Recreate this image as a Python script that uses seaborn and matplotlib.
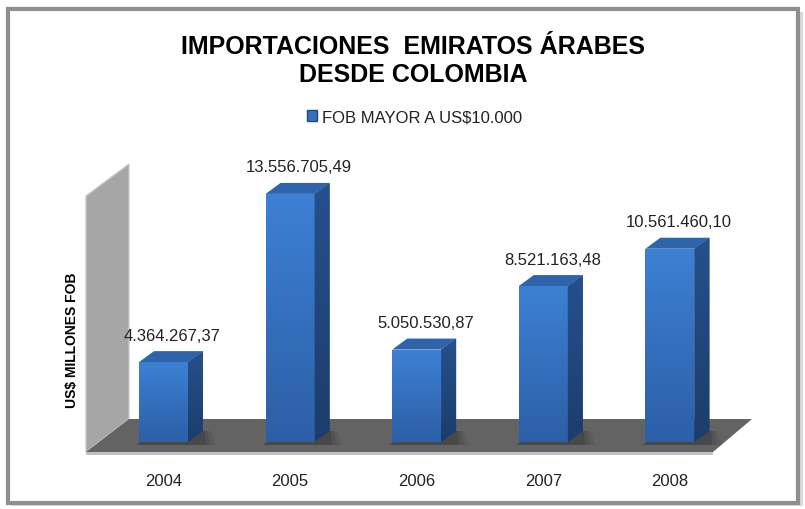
import matplotlib
matplotlib.use("Agg")
import matplotlib.pyplot as plt
import numpy as np
import pandas as pd
import seaborn as sns
from matplotlib.patches import Polygon, Rectangle, Patch
from matplotlib.colors import LinearSegmentedColormap

years = ["2004", "2005", "2006", "2007", "2008"]
values = [4364267.37, 13556705.49, 5050530.87, 8521163.48, 10561460.10]
labels = ["4.364.267,37", "13.556.705,49", "5.050.530,87", "8.521.163,48", "10.561.460,10"]
series_name = "FOB MAYOR A US$10.000"

sns.set_theme(style="white")
plt.rcParams["font.family"] = ["Liberation Sans", "DejaVu Sans"]

W, H = 805, 510
fig = plt.figure(figsize=(W / 100, H / 100), dpi=100)

# outer frame with a soft grey border
fig.patches.append(Rectangle((11 / W, 3 / H), 792 / W, 494 / H, transform=fig.transFigure,
                             facecolor="#d9d9d9", edgecolor="none", zorder=-2))
fig.patches.append(Rectangle((8 / W, 6 / H), 790 / W, 494 / H, transform=fig.transFigure,
                             facecolor="white", edgecolor="#8f8f8f", linewidth=3, zorder=-1))

# axes placed so the plot area matches the reference layout (pixels)
ax_left, ax_right, ax_top, ax_bottom = 80, 770, 150, 460
ax = fig.add_axes([ax_left / W, (H - ax_bottom) / H, (ax_right - ax_left) / W, (ax_bottom - ax_top) / H])
ax.patch.set_alpha(0)

px_per_cat = 126.6
px_per_val = 18.3e-6
base_px = 443
x0_center = 163.5
xmin = -(x0_center - ax_left) / px_per_cat
xmax = xmin + (ax_right - ax_left) / px_per_cat
ymin = -(ax_bottom - base_px) / px_per_val
ymax = (base_px - ax_top) / px_per_val


def px_x(p):
    return xmin + (p - ax_left) / px_per_cat


def px_y(p):
    return (base_px - p) / px_per_val


# wall and floor of the 3D box
wall = Polygon([(px_x(86), px_y(197)), (px_x(129), px_y(165)), (px_x(129), px_y(420)), (px_x(86), px_y(453))],
               closed=True, facecolor="#a6a6a6", edgecolor="#c8c8c8", linewidth=1, zorder=1)
ax.add_patch(wall)
floor_edge = Polygon([(px_x(86), px_y(453)), (px_x(713), px_y(453)), (px_x(713), px_y(456)), (px_x(86), px_y(456))],
                     closed=True, facecolor="#c0c0c0", edgecolor="none", zorder=1)
ax.add_patch(floor_edge)
floor = Polygon([(px_x(86), px_y(453)), (px_x(713), px_y(453)), (px_x(752), px_y(420)), (px_x(129), px_y(420))],
                closed=True, facecolor="#636363", edgecolor="none", zorder=1)
ax.add_patch(floor)
n_deco = len(ax.patches)

df = pd.DataFrame({"year": years, "value": values})
bar_w = 49 / px_per_cat
sns.barplot(data=df, x="year", y="value", color="#3570c0", width=bar_w, ax=ax, zorder=3,
            edgecolor="none", linewidth=0)
bars = list(ax.patches[n_deco:])

dx = 15 / px_per_cat
dy = 11 / px_per_val
front_cmap = LinearSegmentedColormap.from_list("front", ["#3d80d4", "#2c5fa6"])
side_cmap = LinearSegmentedColormap.from_list("side", ["#26508c", "#1c3d6c"])
grad = np.linspace(0, 1, 100).reshape(-1, 1)

for patch, lab in zip(bars, labels):
    x0 = patch.get_x()
    x1 = x0 + patch.get_width()
    h = patch.get_height()
    # soft shadow on the floor
    for grow, a in [(0.10, 0.12), (0.06, 0.15), (0.02, 0.2)]:
        shadow = Polygon([(x0 - 0.02, px_y(446)), (x1 + dx + grow, px_y(446)), (x1 + dx + grow * 0.6, dy),
                          (x0 + dx, dy)], closed=True, facecolor="#222222", alpha=a, edgecolor="none", zorder=2)
        ax.add_patch(shadow)
    im = ax.imshow(grad, extent=(x0, x1, 0, h), origin="upper", cmap=front_cmap, aspect="auto", zorder=4)
    im.set_clip_path(patch)
    side = Polygon([(x1, 0), (x1 + dx, dy), (x1 + dx, h + dy), (x1, h)], closed=True,
                   facecolor="#224a82", edgecolor="none", zorder=4)
    ax.add_patch(side)
    im2 = ax.imshow(grad, extent=(x1, x1 + dx, 0, h + dy), origin="upper", cmap=side_cmap, aspect="auto", zorder=4)
    im2.set_clip_path(side)
    top = Polygon([(x0, h), (x0 + dx, h + dy), (x1 + dx, h + dy), (x1, h)], closed=True,
                  facecolor="#2e64ab", edgecolor="none", zorder=5)
    ax.add_patch(top)
    ax.text((x0 + x1) / 2 + 9 / px_per_cat, h + 27 / px_per_val, lab, ha="center", va="center",
            fontsize=12, color="#222222", zorder=6)

ax.set_xlim(xmin, xmax)
ax.set_ylim(ymin, ymax)
ax.set_xlabel("")
ax.set_ylabel("")
ax.set_yticks([])
ax.tick_params(axis="x", length=0, pad=10, labelsize=12, labelcolor="#222222")
for s in ax.spines.values():
    s.set_visible(False)

fig.text(72 / W, 1 - 340 / H, "US$ MILLONES FOB", rotation=90, ha="center", va="center",
         fontsize=10, fontweight="bold", color="black")

fig.text(413 / W, 1 - 47 / H, "IMPORTACIONES  EMIRATOS ÁRABES", ha="center", va="center",
         fontsize=18, fontweight="bold", color="black")
fig.text(413 / W, 1 - 75 / H, "DESDE COLOMBIA", ha="center", va="center",
         fontsize=18, fontweight="bold", color="black")

handle = Patch(facecolor="#3570c0", edgecolor="#1f4a80", label=series_name)
fig.legend(handles=[handle], loc="center", bbox_to_anchor=(415 / W, 1 - 118 / H), frameon=False,
           fontsize=12, handlelength=0.6, handleheight=0.6, handletextpad=0.3,
           labelcolor="#222222")

fig.savefig("out.png", dpi=100)
